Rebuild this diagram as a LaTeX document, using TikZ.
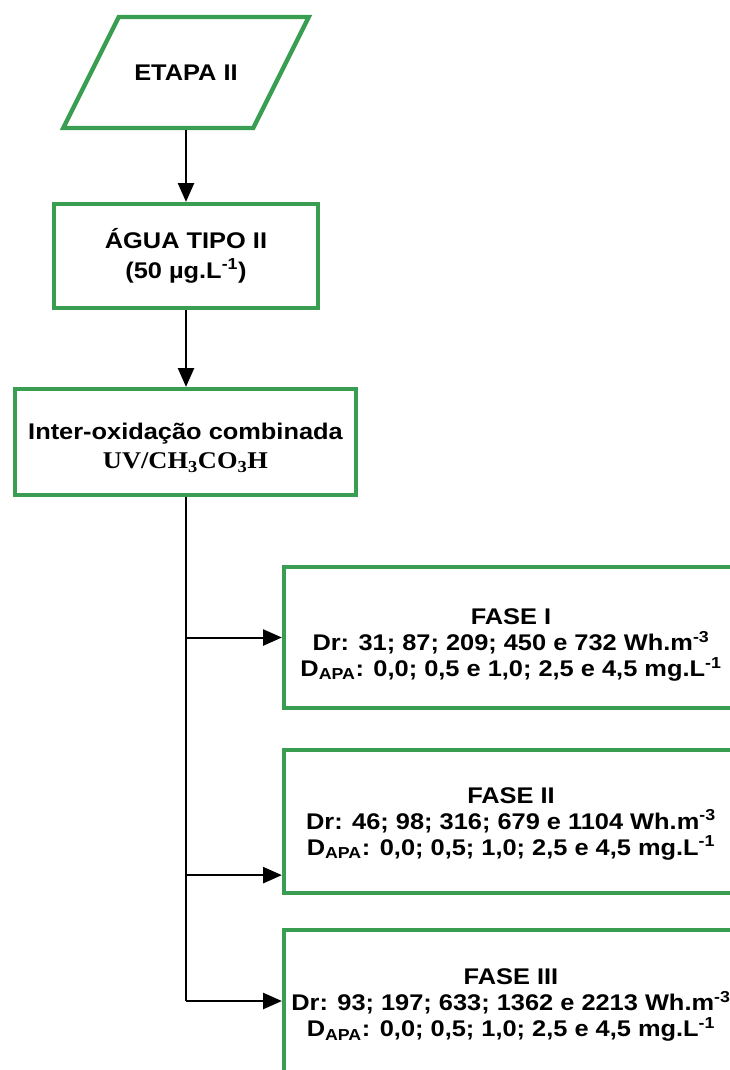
\documentclass[tikz,border=0pt]{standalone}
\usepackage{fontspec}
\setmainfont{Liberation Sans}[FakeStretch=1.12]
\newfontfamily\timesfont{Liberation Serif}[FakeStretch=1.1]
\usetikzlibrary{arrows.meta}
\definecolor{boxgreen}{RGB}{58,158,82}
\newcommand\topgap[1]{\rule{0pt}{#1}}
\begin{document}
\begin{tikzpicture}[x=0.75pt,y=-0.75pt,
  font=\fontsize{17}{22}\selectfont\bfseries,
  box/.style={draw=boxgreen, line width=3.2pt, inner sep=0pt, align=center},
  sidebox/.style={box, minimum width=340.5pt, font=\fontsize{17}{19.5}\selectfont\bfseries},
  conn/.style={line width=1.5pt, draw=black},
  arr/.style={conn, -{Triangle[length=14pt,width=12pt]}}]
\useasboundingbox (0,0) rectangle (730,1070);
\clip (0,0) rectangle (730,1070);
% input parallelogram
\node[box, xslant=0.5, transform shape, minimum width=142.5pt, minimum height=83.25pt] (etapa) at (186,72.5) {};
\node (etapatxt) at (etapa.center) {ETAPA II};
% boxes
\node[box, minimum width=198pt, minimum height=78pt] (agua) at (186,256)
  {ÁGUA TIPO II\\(50 µg.L\textsuperscript{-1})};
\node[box, minimum width=255.75pt, minimum height=79.5pt] (inter) at (185.5,442)
  {\topgap{21pt}Inter-oxidação combinada\\{\timesfont\fontsize{18}{21}\selectfont UV/CH\textsubscript{3}CO\textsubscript{3}H}};
\node[sidebox, minimum height=105.75pt] (f1) at (511,637.5)
  {\topgap{23pt}FASE I\\Dr: 31; 87; 209; 450 e 732 Wh.m\textsuperscript{-3}\\D\textsubscript{APA}: 0,0; 0,5 e 1,0; 2,5 e 4,5 mg.L\textsuperscript{-1}};
\node[sidebox, minimum height=107.25pt] (f2) at (511,821.5)
  {\topgap{15pt}FASE II\\Dr: 46; 98; 316; 679 e 1104 Wh.m\textsuperscript{-3}\\D\textsubscript{APA}: 0,0; 0,5; 1,0; 2,5 e 4,5 mg.L\textsuperscript{-1}};
\node[sidebox, minimum height=106.5pt] (f3) at (511,1001)
  {\topgap{18pt}FASE III\\Dr: 93; 197; 633; 1362 e 2213 Wh.m\textsuperscript{-3}\\D\textsubscript{APA}: 0,0; 0,5; 1,0; 2,5 e 4,5 mg.L\textsuperscript{-1}};
% connectors
\draw[arr] (etapa.center |- etapa.south) -- (agua.north);
\draw[arr] (agua.south) -- (agua.south |- inter.north);
\draw[conn] (inter.south) -- (inter.south |- f3.west);
\coordinate (f2in) at ([yshift=15pt]f2.south west);
\draw[arr] (inter.south |- f1.west) -- (f1.west);
\draw[arr] (inter.south |- f2in) -- (f2in);
\draw[arr] (inter.south |- f3.west) -- (f3.west);
\end{tikzpicture}
\end{document}
